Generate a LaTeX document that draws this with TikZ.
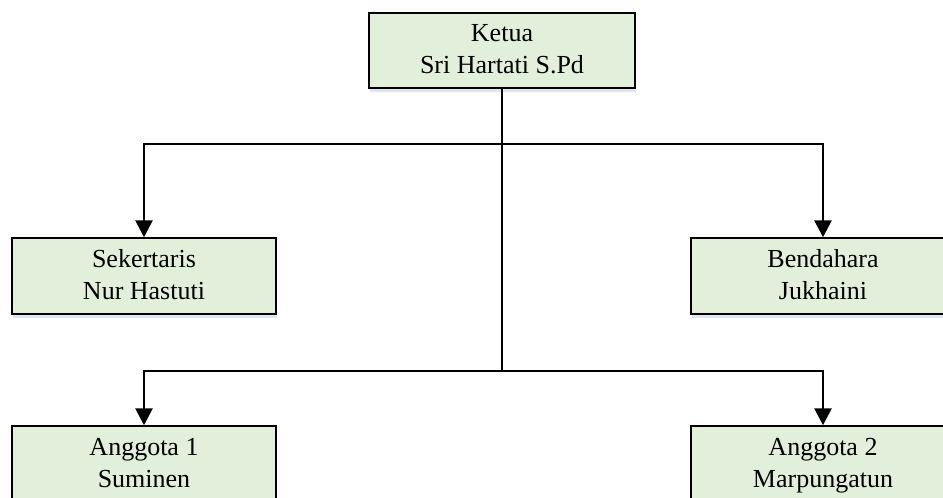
\documentclass[tikz,border=0pt]{standalone}
\usepackage{fontspec}
\setmainfont{Liberation Serif}
\usetikzlibrary{arrows.meta,shadows}
\definecolor{boxfill}{HTML}{E2EFDA}
\definecolor{shadowc}{HTML}{C9D6EA}
\newcommand\bxstrut{\rule[-6pt]{0pt}{26pt}}
\tikzset{
  orgbox/.style={draw=black, line width=1.5pt, fill=boxfill, rectangle,
    minimum height=76pt, align=center, inner sep=0pt,
    font=\fontsize{26}{32}\selectfont,
    drop shadow={shadow xshift=1pt, shadow yshift=-4pt, fill=shadowc, opacity=0.6}},
  conn/.style={line width=2.8pt, draw=black},
  arr/.style={conn, -{Triangle[length=17pt,width=17pt]}}
}
\begin{document}
\begin{tikzpicture}[x=1pt,y=-1pt]
\useasboundingbox (0,0) rectangle (943,498);
\node[orgbox, minimum width=266pt, minimum height=75pt] (ketua) at (502,50.5) {\bxstrut Ketua\\\bxstrut Sri Hartati S.Pd};
\node[orgbox, minimum width=264pt] (sek) at (144,276) {\bxstrut Sekertaris\\\bxstrut Nur Hastuti};
\node[orgbox, minimum width=264pt] (ben) at (823,276) {\bxstrut Bendahara\\\bxstrut Jukhaini};
\node[orgbox, minimum width=264pt] (ang1) at (144,464) {\bxstrut Anggota 1\\\bxstrut Suminen};
\node[orgbox, minimum width=264pt] (ang2) at (823,464) {\bxstrut Anggota 2\\\bxstrut Marpungatun};
\coordinate (j1) at (502,144);
\coordinate (j2) at (502,371);
\draw[conn] (ketua.south) -- (j2);
\draw[arr] (j1) -| (sek.north);
\draw[arr] (j1) -| (ben.north);
\draw[arr] (j2) -| (ang1.north);
\draw[arr] (j2) -| (ang2.north);
\end{tikzpicture}
\end{document}
